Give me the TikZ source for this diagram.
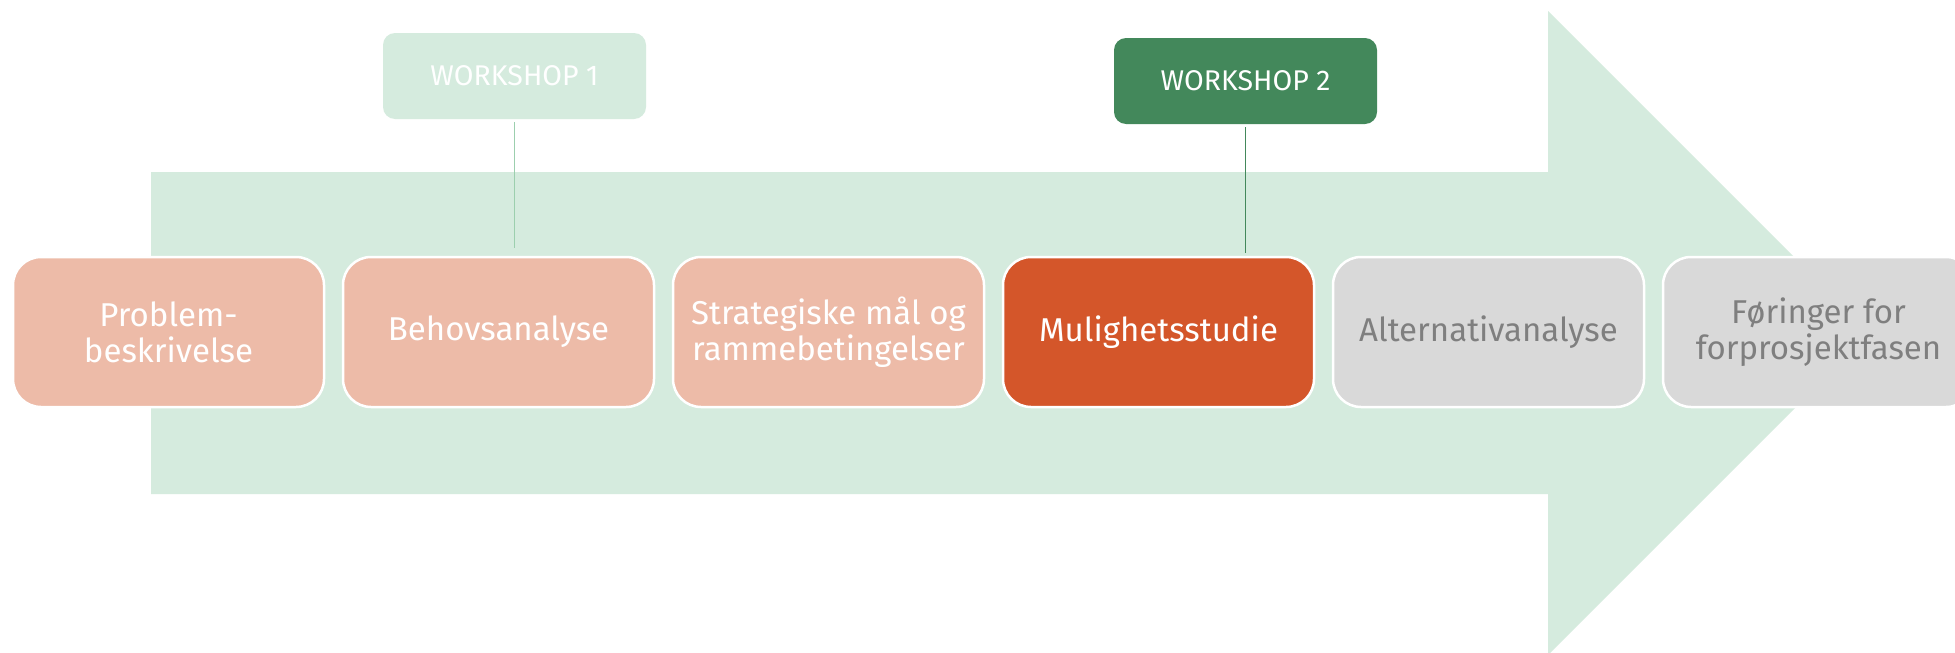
\documentclass[tikz,border=0pt]{standalone}
\usepackage{fontspec}
\setmainfont{Fira Sans}
\definecolor{arrowgreen}{HTML}{D5EBDE}
\definecolor{salmon}{HTML}{EDBBA8}
\definecolor{orangebox}{HTML}{D4562A}
\definecolor{graybox}{HTML}{D9D9D9}
\definecolor{graytext}{HTML}{7F7F7F}
\definecolor{darkgreen}{HTML}{43885B}
\definecolor{linelight}{HTML}{9CCFAE}
\begin{document}
\begin{tikzpicture}[x=1pt,y=-1pt,
  stage/.style={draw=white, line width=2.5pt, rounded corners=28pt,
    minimum width=311pt, minimum height=150pt, inner sep=0pt, align=center,
    font=\fontsize{33}{36}\selectfont},
  wbox/.style={rounded corners=12pt, minimum width=263pt, minimum height=86pt,
    inner sep=0pt, text=white, font=\fontsize{28.5}{30}\selectfont}]
\useasboundingbox (0,0) rectangle (1955,653);
\fill[white] (0,0) rectangle (1955,653);
% big arrow
\fill[arrowgreen] (151,172) -- (1548,172) -- (1548,11) -- (1870,333) -- (1548,655) -- (1548,494) -- (151,494) -- cycle;
% workshops
\node[wbox, fill=arrowgreen] (w1) at (514.5,76) {WORKSHOP 1};
\node[wbox, fill=darkgreen] (w2) at (1245.5,81) {WORKSHOP 2};
\coordinate (e1) at (514.5,248);
\coordinate (e2) at (1245.5,253);
\draw[linelight, line width=1.5pt, shorten <=3pt] (w1.south) -- (e1);
\draw[darkgreen, line width=1.5pt, shorten <=3pt] (w2.south) -- (e2);
% stages
\node[stage, fill=salmon, text=white] (s1) at (168.5,332) {Problem-\\beskrivelse};
\node[stage, fill=salmon, text=white] (s2) at (498.5,332) {Behovsanalyse};
\node[stage, fill=salmon, text=white] (s3) at (828.5,332) {Strategiske mål og\\rammebetingelser};
\node[stage, fill=orangebox, text=white] (s4) at (1158.5,332) {Mulighetsstudie};
\node[stage, fill=graybox, text=graytext] (s5) at (1488.5,332) {Alternativanalyse};
\node[stage, fill=graybox, text=graytext] (s6) at (1818.5,332) {Føringer for\\forprosjektfasen};
\end{tikzpicture}
\end{document}
